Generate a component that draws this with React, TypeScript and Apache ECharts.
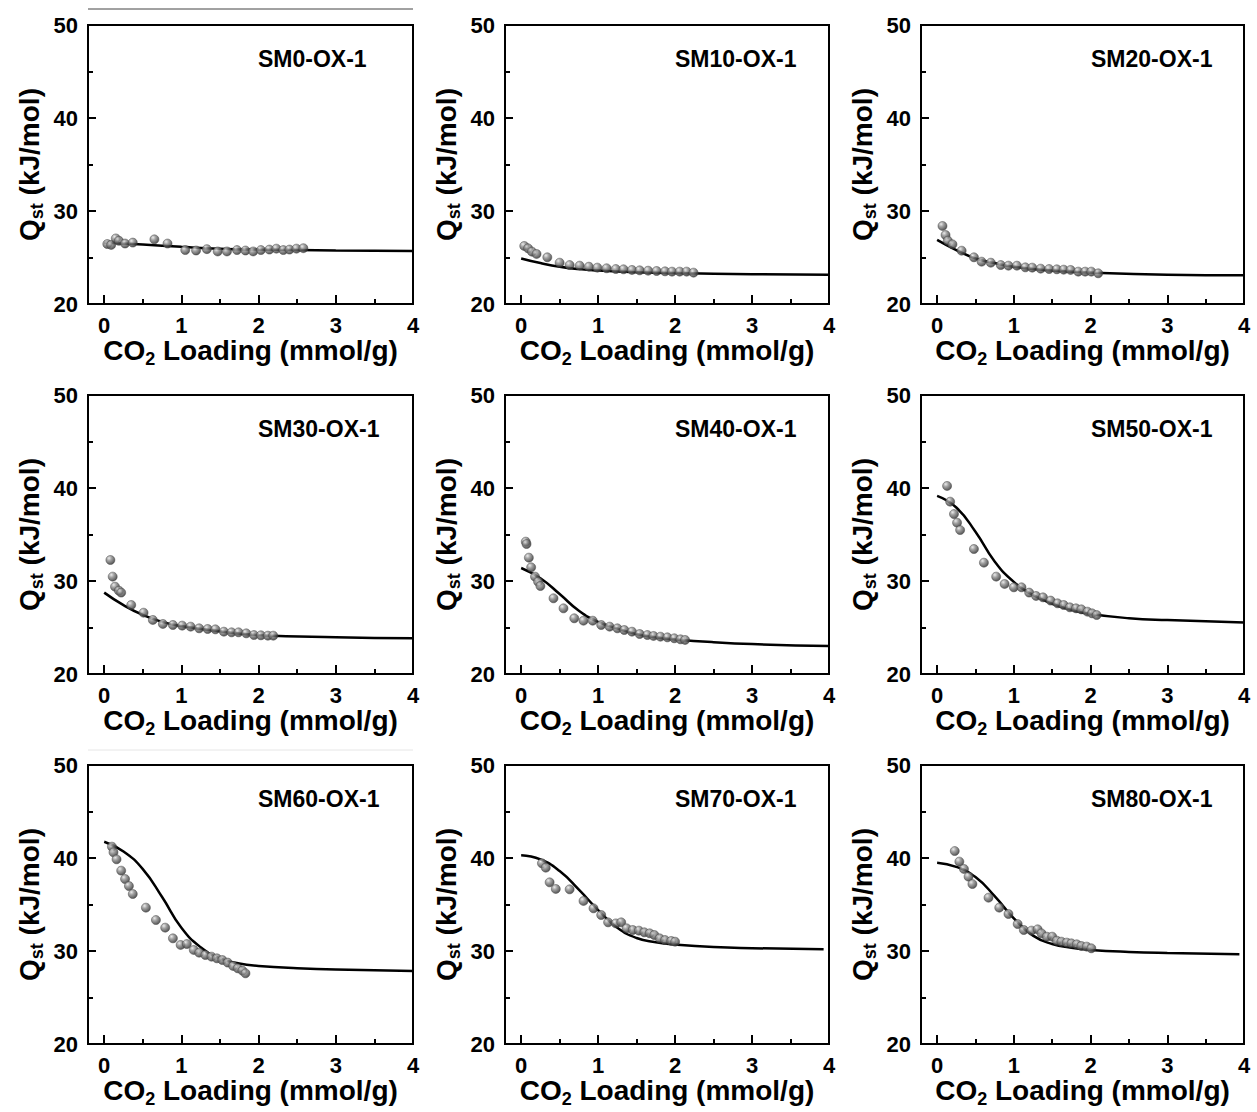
import React, { useEffect, useRef } from "react";
import * as echarts from "echarts";

const FONT = "'Liberation Sans', Arial, Helvetica, sans-serif";

const panelTitles = [
  "SM0-OX-1", "SM10-OX-1", "SM20-OX-1",
  "SM30-OX-1", "SM40-OX-1", "SM50-OX-1",
  "SM60-OX-1", "SM70-OX-1", "SM80-OX-1",
];

const xTicks = [0, 1, 2, 3, 4];
const xMinorTicks = [0.5, 1.5, 2.5, 3.5];
const yRange = [20, 50];

// measured points (CO2 loading mmol/g, Qst kJ/mol)
const sm0Points = [
  [0.04, 26.45], [0.09, 26.35], [0.15, 27.05], [0.19, 26.8], [0.27, 26.5], [0.37, 26.6],
  [0.65, 26.95], [0.82, 26.5], [1.05, 25.8], [1.19, 25.75], [1.33, 25.9], [1.47, 25.65],
  [1.59, 25.65], [1.72, 25.8], [1.83, 25.75], [1.93, 25.65], [2.03, 25.8], [2.14, 25.85],
  [2.23, 25.95], [2.32, 25.8], [2.4, 25.85], [2.49, 25.95], [2.58, 26.0],
];
const sm0Fit = [[0, 26.6], [0.5, 26.4], [1, 26.15], [1.5, 25.95], [2, 25.85], [2.5, 25.8], [3, 25.75], [4, 25.7]];

const sm10Points = [
  [0.04, 26.24], [0.09, 25.99], [0.14, 25.63], [0.2, 25.38], [0.34, 25.02], [0.5, 24.44],
  [0.63, 24.19], [0.76, 24.12], [0.88, 24.01], [0.99, 23.91], [1.11, 23.84], [1.23, 23.76],
  [1.33, 23.73], [1.44, 23.66], [1.54, 23.62], [1.65, 23.58], [1.76, 23.55], [1.87, 23.51],
  [1.96, 23.48], [2.06, 23.48], [2.15, 23.48], [2.24, 23.37],
];
const sm10Fit = [[0, 24.9], [0.25, 24.4], [0.5, 24.0], [0.75, 23.75], [1, 23.6], [1.5, 23.42], [2, 23.32], [3, 23.2], [4, 23.15]];

const sm20Points = [
  [0.07, 28.39], [0.11, 27.42], [0.14, 26.81], [0.2, 26.42], [0.32, 25.73], [0.48, 25.02],
  [0.58, 24.55], [0.7, 24.44], [0.83, 24.19], [0.93, 24.12], [1.04, 24.12], [1.15, 23.94],
  [1.24, 23.91], [1.35, 23.8], [1.46, 23.76], [1.56, 23.73], [1.65, 23.69], [1.74, 23.66],
  [1.84, 23.48], [1.93, 23.48], [2.01, 23.48], [2.1, 23.3],
];
const sm20Fit = [[0, 26.9], [0.25, 25.8], [0.5, 24.9], [0.75, 24.4], [1, 24.0], [1.5, 23.6], [2, 23.38], [3, 23.15], [4, 23.08]];

const sm30Points = [
  [0.08, 32.26], [0.11, 30.47], [0.14, 29.39], [0.19, 28.96], [0.22, 28.75], [0.35, 27.42],
  [0.51, 26.59], [0.63, 25.81], [0.76, 25.38], [0.89, 25.27], [1.01, 25.2], [1.12, 25.09],
  [1.23, 24.91], [1.34, 24.84], [1.44, 24.8], [1.55, 24.55], [1.65, 24.48], [1.74, 24.48],
  [1.84, 24.37], [1.94, 24.19], [2.03, 24.16], [2.12, 24.12], [2.19, 24.12],
];
const sm30Fit = [[0, 28.75], [0.25, 27.4], [0.5, 26.35], [0.75, 25.6], [1, 25.15], [1.5, 24.6], [2, 24.2], [3, 23.95], [4, 23.85]];

const sm40Points = [
  [0.06, 34.23], [0.07, 33.98], [0.1, 32.51], [0.13, 31.47], [0.18, 30.47], [0.22, 29.93],
  [0.25, 29.46], [0.42, 28.14], [0.55, 27.06], [0.69, 25.99], [0.81, 25.73], [0.93, 25.73],
  [1.04, 25.27], [1.15, 25.09], [1.25, 24.91], [1.34, 24.73], [1.44, 24.55], [1.54, 24.3],
  [1.64, 24.19], [1.72, 24.09], [1.81, 24.01], [1.9, 23.94], [1.99, 23.84], [2.07, 23.73],
  [2.13, 23.66],
];
const sm40Fit = [[0, 31.4], [0.25, 30.3], [0.5, 28.6], [0.75, 26.8], [1, 25.6], [1.25, 24.9], [1.5, 24.3], [1.75, 23.95], [2, 23.72], [2.5, 23.42], [3, 23.22], [4, 23.0]];

const sm50Points = [
  [0.13, 40.22], [0.17, 38.53], [0.22, 37.2], [0.26, 36.27], [0.3, 35.48], [0.48, 33.44],
  [0.61, 31.97], [0.77, 30.47], [0.88, 29.68], [1.0, 29.32], [1.1, 29.32], [1.2, 28.75],
  [1.29, 28.39], [1.38, 28.24], [1.48, 27.89], [1.57, 27.6], [1.65, 27.42], [1.73, 27.17],
  [1.81, 27.06], [1.88, 26.95], [1.96, 26.7], [2.02, 26.52], [2.08, 26.34],
];
const sm50Fit = [[0, 39.15], [0.25, 37.9], [0.5, 35.3], [0.75, 32.1], [1, 29.9], [1.25, 28.5], [1.5, 27.55], [1.75, 26.9], [2, 26.45], [2.5, 26.0], [3, 25.8], [4, 25.55]];

const sm60Points = [
  [0.1, 41.22], [0.12, 40.61], [0.16, 39.86], [0.22, 38.64], [0.27, 37.74], [0.32, 36.99],
  [0.37, 36.13], [0.54, 34.66], [0.67, 33.33], [0.79, 32.51], [0.89, 31.36], [0.99, 30.65],
  [1.07, 30.75], [1.16, 30.11], [1.23, 29.82], [1.31, 29.57], [1.39, 29.39], [1.46, 29.21],
  [1.53, 29.03], [1.6, 28.75], [1.67, 28.39], [1.73, 28.14], [1.79, 27.89], [1.83, 27.6],
];
const sm60Fit = [[0, 41.75], [0.25, 40.7], [0.5, 38.8], [0.75, 35.8], [1, 32.5], [1.25, 30.4], [1.5, 29.2], [1.75, 28.65], [2, 28.4], [2.5, 28.15], [3, 28.0], [4, 27.85]];

const sm70Points = [
  [0.27, 39.43], [0.32, 38.96], [0.37, 37.38], [0.45, 36.67], [0.63, 36.63], [0.81, 35.38],
  [0.94, 34.59], [1.04, 33.87], [1.13, 33.08], [1.23, 32.97], [1.3, 33.08], [1.37, 32.44],
  [1.45, 32.26], [1.53, 32.19], [1.6, 32.01], [1.67, 31.9], [1.73, 31.72], [1.8, 31.36],
  [1.87, 31.18], [1.95, 31.08], [2.0, 31.0],
];
const sm70Fit = [[0, 40.3], [0.25, 39.85], [0.5, 38.6], [0.75, 36.6], [1, 34.4], [1.25, 32.5], [1.5, 31.4], [1.75, 30.95], [2, 30.7], [2.5, 30.42], [3, 30.3], [3.93, 30.18]];

const sm80Points = [
  [0.23, 40.75], [0.29, 39.61], [0.35, 38.82], [0.41, 37.99], [0.46, 37.2], [0.67, 35.73],
  [0.81, 34.66], [0.93, 33.98], [1.05, 32.9], [1.13, 32.26], [1.23, 32.19], [1.31, 32.33],
  [1.36, 31.9], [1.43, 31.54], [1.5, 31.54], [1.56, 31.11], [1.62, 31.0], [1.69, 30.9],
  [1.75, 30.82], [1.82, 30.72], [1.88, 30.54], [1.95, 30.47], [2.01, 30.29],
];
const sm80Fit = [[0, 39.5], [0.25, 39.05], [0.5, 37.95], [0.75, 35.9], [1, 33.5], [1.25, 31.65], [1.5, 30.75], [1.75, 30.35], [2, 30.12], [2.5, 29.9], [3, 29.78], [3.94, 29.64]];

const panelPoints = [sm0Points, sm10Points, sm20Points, sm30Points, sm40Points, sm50Points, sm60Points, sm70Points, sm80Points];
const panelFits = [sm0Fit, sm10Fit, sm20Fit, sm30Fit, sm40Fit, sm50Fit, sm60Fit, sm70Fit, sm80Fit];

// layout
const colLefts = [88, 505, 921];
const colWidths = [325, 324, 323];
const rowTops = [25, 395, 765];
const plotHeight = 279;
const xMin = -0.21;

const nameRich = {
  m: { fontSize: 28, fontWeight: "bold", fontFamily: FONT, color: "#000", lineHeight: 34 },
  s: { fontSize: 18, fontWeight: "bold", fontFamily: FONT, color: "#000", lineHeight: 14, verticalAlign: "bottom" },
};

function buildOption() {
  const grid: any[] = [];
  const xAxis: any[] = [];
  const yAxis: any[] = [];
  const series: any[] = [];
  const title: any[] = [];
  const tickLine = { color: "#000", width: 2 };
  const labelStyle = { color: "#000", fontSize: 22, fontWeight: "bold", fontFamily: FONT };

  panelTitles.forEach((t, i) => {
    const col = i % 3;
    const row = Math.floor(i / 3);
    grid.push({
      left: colLefts[col], top: rowTops[row], width: colWidths[col], height: plotHeight,
      show: true, borderColor: "#000", borderWidth: 2, backgroundColor: "transparent",
    });
    xAxis.push({
      gridIndex: i, type: "value", min: xMin, max: 4, position: "bottom",
      axisLine: { show: true, onZero: false, lineStyle: tickLine },
      axisTick: { show: true, inside: true, length: 9, customValues: xTicks, lineStyle: tickLine },
      axisLabel: { show: true, customValues: xTicks, margin: 10, ...labelStyle },
      splitLine: { show: false },
      name: "{m|CO}{s|2}{m| Loading (mmol/g)}",
      nameLocation: "middle", nameGap: 29,
      nameTextStyle: { rich: nameRich },
    });
    xAxis.push({
      gridIndex: i, type: "value", min: xMin, max: 4, position: "bottom",
      axisLine: { show: false },
      axisTick: { show: true, inside: true, length: 5, customValues: xMinorTicks, lineStyle: tickLine },
      axisLabel: { show: false },
      splitLine: { show: false },
    });
    yAxis.push({
      gridIndex: i, type: "value", min: yRange[0], max: yRange[1], interval: 10,
      axisLine: { show: true, onZero: false, lineStyle: tickLine },
      axisTick: { show: true, inside: true, length: 8, lineStyle: tickLine },
      minorTick: { show: true, splitNumber: 2, length: 5, lineStyle: tickLine },
      axisLabel: { margin: 10, showMinLabel: true, showMaxLabel: true, ...labelStyle },
      splitLine: { show: false },
      name: "{m|Q}{s|st}{m| (kJ/mol)}",
      nameLocation: "middle", nameGap: 42,
      nameTextStyle: { rich: nameRich },
    });
    title.push({
      text: t, left: colLefts[col] + 170, top: rowTops[row] + 22, padding: 0,
      textStyle: { fontSize: 23, fontWeight: "bold", color: "#000", fontFamily: FONT },
    });
    series.push({
      type: "line", xAxisIndex: 2 * i, yAxisIndex: i, data: panelFits[i],
      smooth: 0.5, symbol: "none", lineStyle: { color: "#000", width: 2.5 }, z: 2,
    });
    series.push({
      type: "scatter", xAxisIndex: 2 * i, yAxisIndex: i, data: panelPoints[i],
      symbol: "circle", symbolSize: 9, z: 3,
      itemStyle: {
        color: new echarts.graphic.RadialGradient(0.35, 0.3, 0.7, [
          { offset: 0, color: "#e6e6e6" },
          { offset: 0.4, color: "#8c8c8c" },
          { offset: 1, color: "#2f2f2f" },
        ]),
        borderColor: "#444", borderWidth: 0.6,
      },
    });
  });

  return {
    animation: false,
    backgroundColor: "#fff",
    title, grid, xAxis, yAxis, series,
    graphic: [
      { type: "line", shape: { x1: 88, y1: 9, x2: 413, y2: 9 }, style: { stroke: "#444", lineWidth: 1 } },
      { type: "line", shape: { x1: 88, y1: 750, x2: 413, y2: 750 }, style: { stroke: "#e6e6e6", lineWidth: 1 } },
    ],
  };
}

export default function App() {
  const ref = useRef<HTMLDivElement>(null);
  useEffect(() => {
    if (!ref.current) return;
    const chart = echarts.init(ref.current, undefined, { renderer: "svg" });
    chart.setOption(buildOption() as any);
    return () => chart.dispose();
  }, []);
  return (
    <div
      ref={ref}
      style={{ position: "fixed", left: 0, top: 0, width: 1257, height: 1112, background: "#fff" }}
    />
  );
}
